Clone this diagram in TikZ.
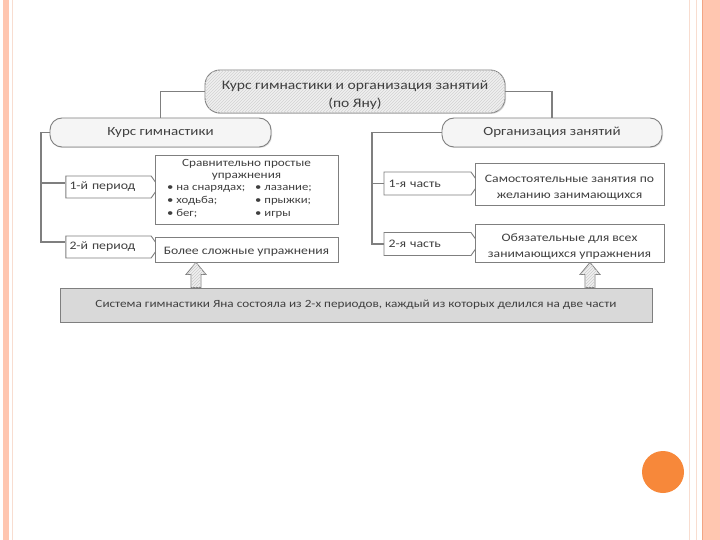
\documentclass[tikz,border=0pt]{standalone}
\usepackage{fontspec}
\setmainfont[FakeStretch=1.2]{Carlito}
\usetikzlibrary{shapes.symbols,calc,patterns,shadows}
\definecolor{txt}{HTML}{3F3F3F}
\definecolor{bord}{HTML}{7F7F7F}
\definecolor{stripe}{HTML}{FFC6B0}
\definecolor{stripedk}{HTML}{F2A584}
\definecolor{stripelt}{HTML}{F8DDD0}
\definecolor{dot}{HTML}{F7883A}
\newcommand{\lowtext}[2][3pt]{\raisebox{-#1}[\height][\depth]{\begin{tabular}{@{}c@{}}#2\end{tabular}}}
\begin{document}
\begin{tikzpicture}[x=1pt,y=-1pt,
  every node/.style={text=txt,inner sep=1pt,align=center},
  pill/.style={draw=bord,line width=0.9pt,rounded corners=12pt,fill=gray!8,
     drop shadow={opacity=0.25,shadow xshift=1pt,shadow yshift=-1pt},font=\fontsize{12.5}{15}\selectfont},
  topnode/.style={pill,rounded corners=15pt,fill=gray!12,font=\fontsize{13}{18}\selectfont,
     postaction={pattern=north east lines,pattern color=gray!35}},
  tag/.style={draw=bord,line width=0.9pt,fill=white,shape=signal,signal to=east,
     signal pointer angle=110,inner sep=0pt,text width=78pt,align=left,
     font=\fontsize{11.5}{13}\selectfont},
  rbox/.style={draw=bord,line width=0.9pt,fill=white,inner sep=0pt,
     drop shadow={opacity=0.25,shadow xshift=1pt,shadow yshift=-1pt},font=\fontsize{11.4}{16}\selectfont},
  link/.style={draw=bord,line width=1.1pt},
  barstyle/.style={draw=bord,line width=0.9pt,fill=gray!30,inner sep=0pt,
     drop shadow={opacity=0.25,shadow xshift=1pt,shadow yshift=-1pt},font=\fontsize{11}{13}\selectfont},
  blockarrow/.style={draw=bord,line width=0.8pt,fill=gray!12,
     postaction={pattern=north east lines,pattern color=gray!40}}
]
\useasboundingbox (0,0) rectangle (720,540);
\fill[white] (0,0) rectangle (720,540);
% page decoration
\fill[stripe] (3,0) rectangle (9,540);
\draw[stripelt,line width=0.8pt] (12.5,0) -- (12.5,540);
\draw[stripelt,line width=1pt] (689,0) -- (689,540);
\draw[stripelt,line width=1pt] (696,0) -- (696,540);
\draw[stripedk,line width=1pt] (702,0) -- (702,540);
\fill[stripe] (703,0) rectangle (720,540);
\fill[dot] (663,472) circle (21);

% nodes
\node[topnode,minimum width=300pt,minimum height=43pt] (top) at (355,91.5)
  {\lowtext[3.5pt]{Курс гимнастики и организация занятий\\(по Яну)}};
\node[pill,minimum width=221pt,minimum height=29pt] (kg) at (160.5,132.5) {Курс гимнастики};
\node[pill,minimum width=220pt,minimum height=29pt] (oz) at (552,132.5) {Организация занятий};

\node[tag,minimum width=93pt,minimum height=22pt] (p1) at (108.5,187) {1-й период};
\node[tag,minimum width=93pt,minimum height=22pt] (p2) at (108.5,247) {2-й период};
\node[tag,minimum width=95pt,minimum height=23pt] (c1) at (427.5,183.5) {1-я часть};
\node[tag,minimum width=95pt,minimum height=23pt] (c2) at (427.5,244) {2-я часть};

\node[rbox,minimum width=183pt,minimum height=69pt] (b1) at (246.5,189.5)
  {\fontsize{11}{12}\selectfont
   \begin{tabular}{@{}c@{}}Сравнительно простые\\[0pt]упражнения\end{tabular}\\[-2pt]
   \fontsize{10.6}{13}\selectfont
   \hspace*{-14pt}\begin{tabular}{@{}l@{\hspace{10pt}}l@{}}
   • на снарядах; & • лазание;\\
   • ходьба; & • прыжки;\\
   • бег; & • игры
   \end{tabular}};
\node[rbox,minimum width=183pt,minimum height=25pt] (b2) at (246.5,249.5) {\lowtext[1.5pt]{Более сложные упражнения}};
\node[rbox,minimum width=189pt,minimum height=42pt] (b3) at (569.5,184)
  {\lowtext{Самостоятельные занятия по\\желанию занимающихся}};
\node[rbox,minimum width=189pt,minimum height=38pt] (b4) at (569.5,243)
  {\lowtext{Обязательные для всех\\занимающихся упражнения}};

\node[barstyle,minimum width=592pt,minimum height=34pt] (bar) at (356,305)
  {Система гимнастики Яна состояла из 2-х периодов, каждый из которых делился на две части};

% connectors
\draw[link] (top.west) -| (kg.north);
\draw[link] (top.east) -| (oz.north);
\coordinate (lt) at (41,0);
\coordinate (rt) at (372,0);
\draw[link] (kg.west) -| (lt |- {$(p2.west)+(0,-5)$}) -- ($(p2.west)+(0,-5)$);
\draw[link] (lt |- {$(p1.west)+(0,-4)$}) -- ($(p1.west)+(0,-4)$);
\draw[link] (oz.west) -| (rt |- c2.west) -- (c2.west);
\draw[link] (rt |- c1.west) -- (c1.west);

% block arrows
\coordinate (a1) at (196,0);
\coordinate (a2) at (590,0);
\draw[blockarrow]
  ($(a1|-bar.north)+(-5,0)$) -- ($(a1|-b2.south)+(-5,12)$) -- ($(a1|-b2.south)+(-10,12)$)
  -- (a1|-b2.south) -- ($(a1|-b2.south)+(10,12)$) -- ($(a1|-b2.south)+(5,12)$)
  -- ($(a1|-bar.north)+(5,0)$) -- cycle;
\draw[blockarrow]
  ($(a2|-bar.north)+(-5,0)$) -- ($(a2|-b4.south)+(-5,12)$) -- ($(a2|-b4.south)+(-10,12)$)
  -- (a2|-b4.south) -- ($(a2|-b4.south)+(10,12)$) -- ($(a2|-b4.south)+(5,12)$)
  -- ($(a2|-bar.north)+(5,0)$) -- cycle;
\end{tikzpicture}
\end{document}
